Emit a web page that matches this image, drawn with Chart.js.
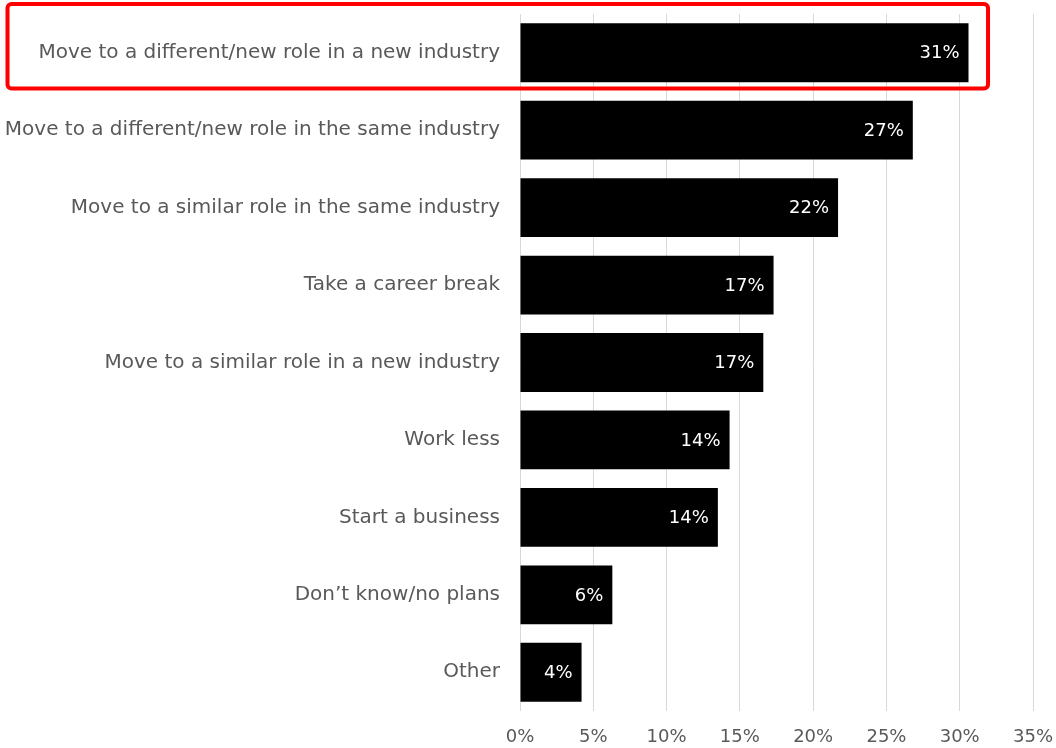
<!DOCTYPE html>
<html>
<head>
<meta charset="utf-8">
<script src="https://cdn.jsdelivr.net/npm/chart.js@4"></script>
<style>
	html, body { margin: 0; padding: 0; background: #fff; }
	#chartBox { width: 1056px; height: 748px; }
</style>
</head>
<body>
<div id="chartBox"><canvas id="plansChart"></canvas></div>
<script>
var categories = [
	'Move to a different/new role in a new industry',
	'Move to a different/new role in the same industry',
	'Move to a similar role in the same industry',
	'Take a career break',
	'Move to a similar role in a new industry',
	'Work less',
	'Start a business',
	'Don\u2019t know/no plans',
	'Other'
];
var shares = [30.6, 26.8, 21.7, 17.3, 16.6, 14.3, 13.5, 6.3, 4.2];
var highlighted = [0];

var textGrey = '#595959';
var fontFamily = '"DejaVu Sans", "Noto Sans", sans-serif';

// white value labels sitting just inside the end of each bar
var barValueLabels = {
	id: 'barValueLabels',
	afterDatasetsDraw: function(chart) {
		var ctx = chart.ctx;
		var meta = chart.getDatasetMeta(0);
		ctx.save();
		ctx.fillStyle = '#fff';
		ctx.font = '18px ' + fontFamily;
		ctx.textAlign = 'right';
		ctx.textBaseline = 'middle';
		meta.data.forEach(function(bar, i) {
			ctx.fillText(Math.round(shares[i]) + '%', bar.x - 9, bar.y + 1);
		});
		ctx.restore();
	}
};

// red outline round the highlighted rows
var highlightBox = {
	id: 'highlightBox',
	afterDraw: function(chart) {
		var ctx = chart.ctx;
		var y = chart.scales.y;
		var x = chart.scales.x;
		var band = (y.getPixelForValue(1) - y.getPixelForValue(0));
		ctx.save();
		ctx.strokeStyle = '#ff0000';
		ctx.lineWidth = 4;
		highlighted.forEach(function(idx) {
			var cy = y.getPixelForValue(idx);
			var top = cy - band / 2 - 10;
			var bottom = cy + band / 2 - 3;
			var left = 7.5;
			var right = x.getPixelForValue(32) - 1;
			ctx.beginPath();
			ctx.roundRect(left, top, right - left, bottom - top, 4);
			ctx.stroke();
		});
		ctx.restore();
	}
};

var chart = new Chart(document.getElementById('plansChart'), {
	type: 'bar',
	data: {
		labels: categories,
		datasets: [{
			data: shares,
			backgroundColor: '#000',
			borderColor: '#000',
			borderWidth: 0,
			categoryPercentage: 1,
			barPercentage: 0.76
		}]
	},
	options: {
		indexAxis: 'y',
		responsive: true,
		maintainAspectRatio: false,
		animation: false,
		layout: {
			padding: { top: 14, right: 0, bottom: 0, left: 0 }
		},
		plugins: {
			legend: { display: false },
			tooltip: { enabled: false }
		},
		scales: {
			x: {
				min: 0,
				max: 35,
				grid: {
					color: '#d9d9d9',
					lineWidth: 1,
					drawTicks: false
				},
				border: { display: false },
				ticks: {
					stepSize: 5,
					padding: 16,
					color: textGrey,
					font: { family: fontFamily, size: 18 },
					callback: function(v) { return v + '%'; }
				},
				afterFit: function(scale) {
					scale.height = 37;
					scale.paddingRight = 23;
				}
			},
			y: {
				grid: { display: false, drawTicks: false },
				border: { display: false },
				ticks: {
					padding: 20,
					color: textGrey,
					font: { family: fontFamily, size: 20 }
				},
				afterFit: function(scale) {
					// bands are offset, so the end labels need no extra room
					scale.width = 520;
					scale.paddingTop = 0;
					scale.paddingBottom = 0;
				}
			}
		}
	},
	plugins: [barValueLabels, highlightBox]
});
</script>
</body>
</html>
